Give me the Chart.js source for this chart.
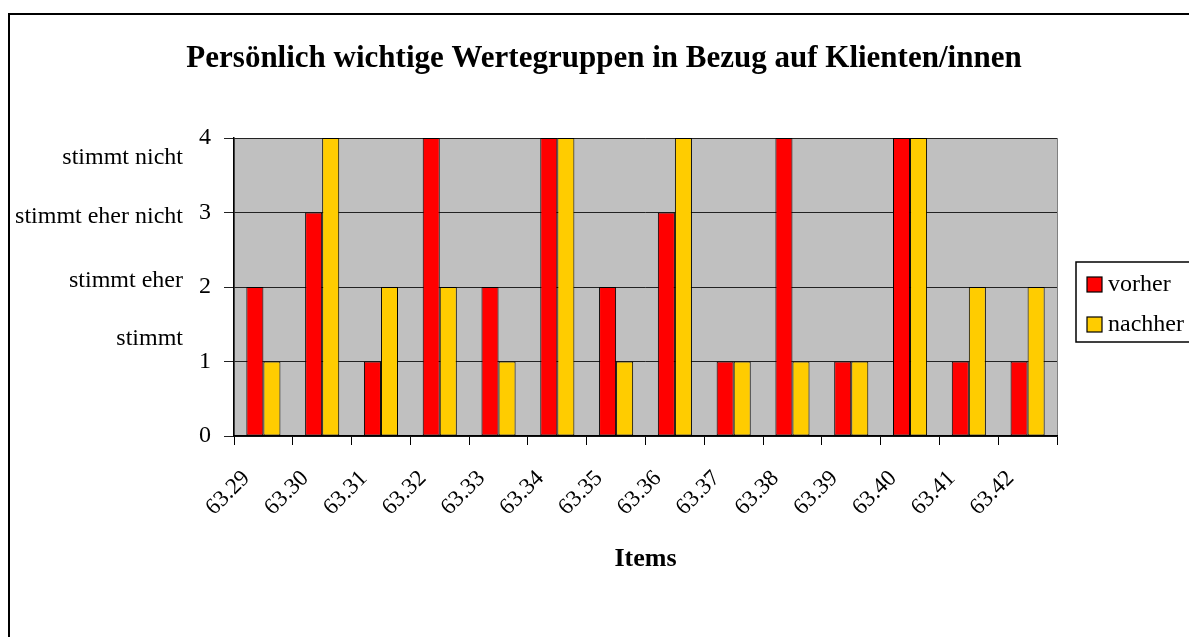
<!DOCTYPE html>
<html>
<head>
<meta charset="utf-8">
<script src="https://cdn.jsdelivr.net/npm/chart.js@4.4.1/dist/chart.umd.min.js"></script>
<style>
  html, body { margin: 0; padding: 0; background: #fff; }
  #wrap { width: 1189px; height: 637px; }
</style>
</head>
<body>
<div id="wrap"><canvas id="grafico" width="1189" height="637"></canvas></div>
<script>
// Daten
const items = ['63.29', '63.30', '63.31', '63.32', '63.33', '63.34', '63.35',
               '63.36', '63.37', '63.38', '63.39', '63.40', '63.41', '63.42'];
const vorher  = [2, 3, 1, 4, 2, 4, 2, 3, 1, 4, 1, 4, 1, 1];
const nachher = [1, 4, 2, 2, 1, 4, 1, 4, 1, 1, 1, 4, 2, 2];
const yTicks = [0, 1, 2, 3, 4];
// Textbeschriftungen links der Y-Achse (Position als Wert auf der Skala)
const skalaTexte = ['stimmt nicht', 'stimmt eher nicht', 'stimmt eher', 'stimmt'];
const skalaPos   = [3.74, 2.94, 2.09, 1.31];

const titel = 'Persönlich wichtige Wertegruppen in Bezug auf Klienten/innen';
const serif = '"Liberation Serif", "Times New Roman", serif';

// Hintergrund, Rahmen, Titel, Legende und Skalentexte
const zeichenPlugin = {
  id: 'zeichen',
  beforeDraw(chart) {
    const ctx = chart.ctx;
    const a = chart.chartArea;
    ctx.save();
    ctx.fillStyle = '#fff';
    ctx.fillRect(0, 0, chart.width, chart.height);
    // äußerer Rahmen
    ctx.strokeStyle = '#000';
    ctx.lineWidth = 2;
    ctx.strokeRect(9, 14, 1300, 800);
    // Plotfläche grau
    ctx.fillStyle = '#c0c0c0';
    ctx.fillRect(a.left, a.top, a.right - a.left, a.bottom - a.top);
    ctx.strokeStyle = '#808080';
    ctx.lineWidth = 1;
    ctx.strokeRect(a.left + 0.5, a.top + 0.5, a.right - a.left, a.bottom - a.top);
    ctx.restore();
  },
  afterDraw(chart) {
    const ctx = chart.ctx;
    const y = chart.scales.y;
    ctx.save();
    // Titel
    ctx.fillStyle = '#000';
    ctx.font = 'bold 31px ' + serif;
    ctx.textAlign = 'center';
    ctx.textBaseline = 'middle';
    ctx.fillText(titel, 604, 59);

    // Skalentexte
    ctx.font = '24px ' + serif;
    ctx.textAlign = 'right';
    skalaTexte.forEach((t, i) => {
      ctx.fillText(t, 183, y.getPixelForValue(skalaPos[i]));
    });

    // Legende
    ctx.fillStyle = '#fff';
    ctx.fillRect(1076, 262, 140, 80);
    ctx.strokeStyle = '#000';
    ctx.lineWidth = 1.5;
    ctx.strokeRect(1076, 262, 140, 80);
    ctx.font = '24px ' + serif;
    ctx.textAlign = 'left';
    chart.data.datasets.forEach((ds, i) => {
      const cy = 285 + i * 40;
      ctx.fillStyle = ds.backgroundColor;
      ctx.fillRect(1087, cy - 8, 15, 15);
      ctx.strokeStyle = '#000';
      ctx.lineWidth = 1.2;
      ctx.strokeRect(1087, cy - 8, 15, 15);
      ctx.fillStyle = '#000';
      ctx.fillText(ds.label, 1108, cy);
    });
    ctx.restore();
  }
};

const ctx = document.getElementById('grafico');

new Chart(ctx, {
  type: 'bar',
  data: {
    labels: items,
    datasets: [
      {
        label: 'vorher',
        data: vorher,
        backgroundColor: '#ff0000',
        borderColor: '#000',
        borderWidth: 1,
        borderSkipped: false
      },
      {
        label: 'nachher',
        data: nachher,
        backgroundColor: '#ffcc00',
        borderColor: '#000',
        borderWidth: 1,
        borderSkipped: false
      }
    ]
  },
  options: {
    responsive: false,
    animation: false,
    devicePixelRatio: 1,
    categoryPercentage: 0.58,
    barPercentage: 1,
    layout: { padding: { left: 0, top: 138, right: 132, bottom: 0 } },
    plugins: {
      legend: { display: false },
      title: { display: false },
      tooltip: { enabled: false }
    },
    scales: {
      x: {
        afterFit(scale) { scale.height = 201; },
        grid: {
          drawOnChartArea: false,
          drawTicks: true,
          tickLength: 9,
          color: '#000',
          offset: true
        },
        border: { color: '#000', width: 1.5 },
        ticks: {
          color: '#000',
          font: { family: serif, size: 23 },
          minRotation: 45,
          maxRotation: 45,
          padding: 20,
          labelOffset: -17,
          autoSkip: false
        },
        title: {
          display: true,
          text: 'Items',
          color: '#000',
          font: { family: serif, size: 26, weight: 'bold' },
          padding: { top: 0, bottom: 62 }
        }
      },
      y: {
        min: 0,
        max: 4,
        afterFit(scale) { scale.width = 234; },
        afterBuildTicks(scale) { scale.ticks = yTicks.map(v => ({ value: v })); },
        grid: {
          color: '#222',
          lineWidth: 1,
          drawTicks: true,
          tickLength: 10
        },
        border: { color: '#000', width: 1.5 },
        ticks: {
          color: '#000',
          font: { family: serif, size: 24 },
          padding: 13
        }
      }
    }
  },
  plugins: [zeichenPlugin]
});
</script>
</body>
</html>
